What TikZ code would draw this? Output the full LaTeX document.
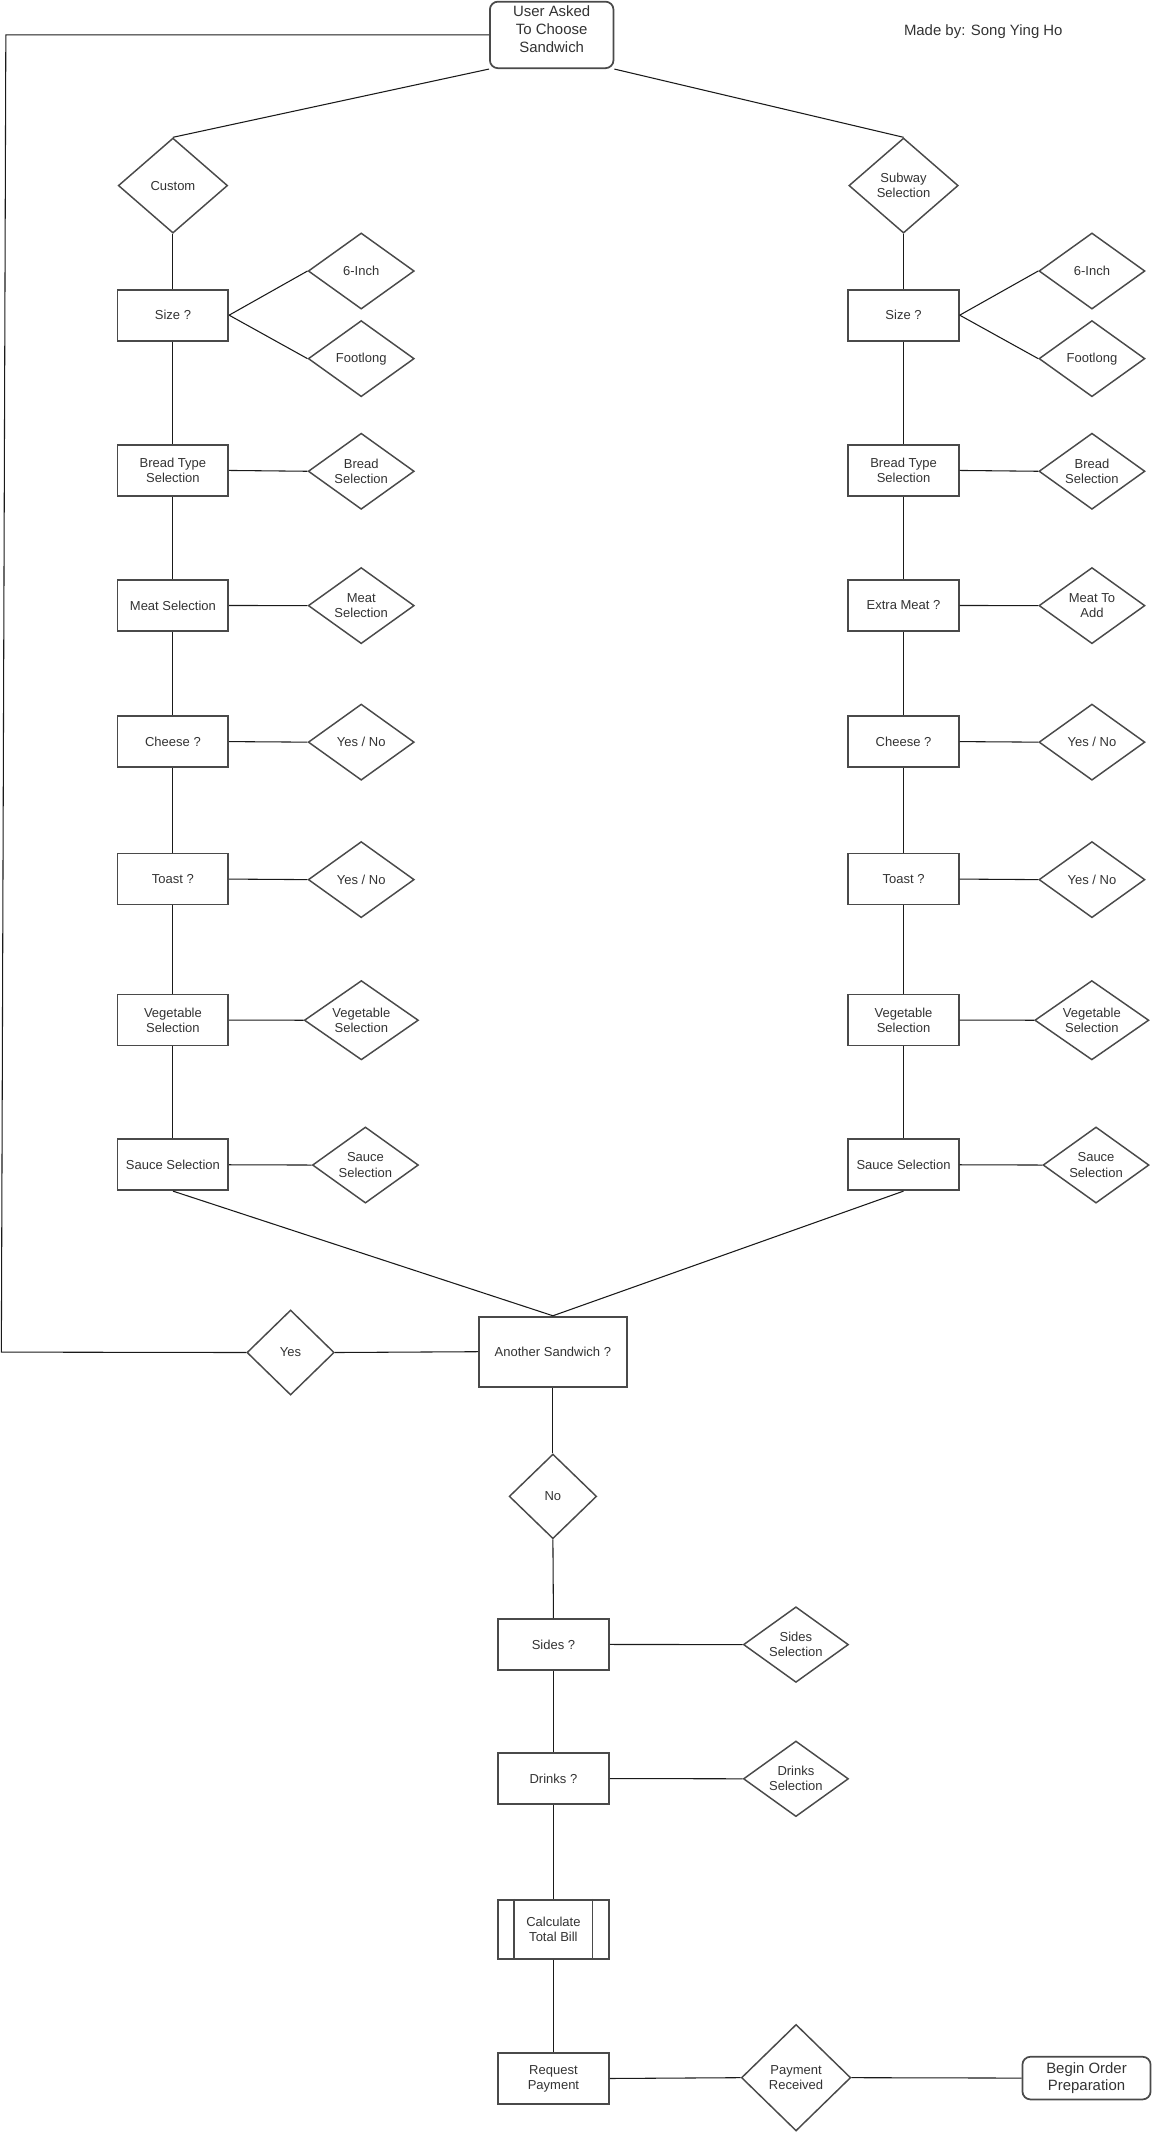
\documentclass[tikz,border=0pt]{standalone}
\usepackage{fontspec}
\setmainfont{Liberation Sans}
\usetikzlibrary{shapes.geometric}
\definecolor{bord}{HTML}{4A4A4A}
\definecolor{txt}{HTML}{333333}
\definecolor{conncol}{HTML}{1A1A1A}
\newcommand\fsmall{\fontsize{9.75}{11.3}\selectfont}
\newcommand\fbig{\fontsize{11.2}{13.3}\selectfont}
\tikzset{
  box/.style={draw=bord, line width=1.3pt, fill=white, text=txt, font=\fsmall, align=center,
    inner sep=0pt, minimum width=83pt, minimum height=38.2pt},
  diam/.style={diamond, draw=bord, line width=1.1pt, fill=white, text=txt, font=\fsmall, align=center,
    inner sep=0pt, shape aspect=1.4, minimum width=79.5pt, minimum height=57.1pt},
  rbox/.style={rounded corners=6pt, draw=bord, line width=1.3pt, fill=white, text=txt, font=\fbig,
    align=center, inner sep=0pt},
  conn/.style={draw=conncol, line width=0.8pt},
}
\begin{document}
\begin{tikzpicture}[x=1.01887pt, y=-1.01887pt]
\useasboundingbox (0,0) rectangle (848,1569.4);

% top
\node[rbox, minimum width=92.7pt, minimum height=49.9pt] (top) at (406.1,25.7) {};
\node[text=txt, font=\fbig, align=center, inner sep=0pt] (toptext) at (406.1,21.5) {User Asked\\To Choose\\Sandwich};
\node[text=txt, font=\fbig, inner sep=0pt] (made) at (723.8,23.3) {Made by: Song Ying Ho};

\node[diam, shape aspect=1.15, minimum width=82pt, minimum height=71.3pt] (custom) at (127.3,136.6) {Custom};
\node[diam, shape aspect=1.15, minimum width=82pt, minimum height=71.3pt] (subway) at (665.1,136.6) {Subway\\Selection};

% left column
\node[box] (sizeL)  at (127.3,232)   {Size ?};
\node[box] (breadL) at (127.3,346.3) {Bread Type\\Selection};
\node[box] (meatL)  at (127.3,445.7) {Meat Selection};
\node[box] (cheeseL) at (127.3,545.9) {Cheese ?};
\node[box] (toastL) at (127.3,647.1) {Toast ?};
\node[box] (vegL)   at (127.3,750.9) {Vegetable\\Selection};
\node[box] (sauceL) at (127.3,857.4) {Sauce Selection};

\node[diam] (inchL)   at (265.9,199.5) {6-Inch};
\node[diam] (footL)   at (265.9,264)   {Footlong};
\node[diam] (breadDL) at (265.9,346.9) {Bread\\Selection};
\node[diam] (meatDL)  at (265.9,445.8) {Meat\\Selection};
\node[diam] (cheeseDL) at (265.9,546.3) {Yes / No};
\node[diam] (toastDL) at (265.9,647.5) {Yes / No};
\node[diam, shape aspect=1.44, minimum width=85.6pt, minimum height=59.5pt] (vegDL) at (266,751) {Vegetable\\Selection};
\node[diam] (sauceDL) at (269,857.6) {Sauce\\Selection};

% right column
\node[box] (sizeR)  at (665.1,232)   {Size ?};
\node[box] (breadR) at (665.1,346.3) {Bread Type\\Selection};
\node[box] (meatR)  at (665.1,445.7) {Extra Meat ?};
\node[box] (cheeseR) at (665.1,545.9) {Cheese ?};
\node[box] (toastR) at (665.1,647.1) {Toast ?};
\node[box] (vegR)   at (665.1,750.9) {Vegetable\\Selection};
\node[box] (sauceR) at (665.1,857.4) {Sauce Selection};

\node[diam] (inchR)   at (803.8,199.5) {6-Inch};
\node[diam] (footR)   at (803.8,264)   {Footlong};
\node[diam] (breadDR) at (803.8,346.9) {Bread\\Selection};
\node[diam] (meatDR)  at (803.8,445.8) {Meat To\\Add};
\node[diam] (cheeseDR) at (803.8,546.3) {Yes / No};
\node[diam] (toastDR) at (803.8,647.5) {Yes / No};
\node[diam, shape aspect=1.44, minimum width=85.6pt, minimum height=59.5pt] (vegDR) at (803.7,751) {Vegetable\\Selection};
\node[diam] (sauceDR) at (806.8,857.6) {Sauce\\Selection};

% bottom
\node[box, minimum width=110.8pt, minimum height=52.6pt] (another) at (407,995) {Another Sandwich ?};
\node[diam, shape aspect=1, minimum width=65.5pt, minimum height=63.8pt] (yes) at (213.9,995.6) {Yes};
\node[diam, shape aspect=1, minimum width=65.6pt, minimum height=63.5pt] (no) at (407,1101.5) {No};

\node[box, minimum width=83.5pt] (sides)  at (407.4,1210.5) {Sides ?};
\node[diam, minimum width=78.8pt, minimum height=56.7pt] (sidesD) at (585.9,1210.6) {Sides\\Selection};
\node[box, minimum width=83.5pt] (drinks) at (407.4,1309.2) {Drinks ?};
\node[diam, minimum width=78.8pt, minimum height=56.7pt] (drinksD) at (585.9,1309.4) {Drinks\\Selection};
\node[box, minimum width=83.5pt, minimum height=44.2pt] (calc) at (407.4,1420.1) {Calculate\\Total Bill};
\draw[draw=bord, line width=1.3pt] ([xshift=13.04pt]calc.north west) -- ([xshift=13.04pt]calc.south west);
\draw[draw=bord, line width=1.3pt] ([xshift=-13.04pt]calc.north east) -- ([xshift=-13.04pt]calc.south east);
\node[box, minimum width=83.5pt] (request) at (407.4,1530) {Request\\Payment};
\node[diam, shape aspect=1, minimum width=82pt, minimum height=79.9pt] (payment) at (586,1529.4) {Payment\\Received};
\node[rbox, minimum width=96.1pt, minimum height=32pt] (begin) at (799.8,1529.7) {Begin Order\\Preparation};

% connectors
\coordinate (loopA) at (4.3,25.7);
\coordinate (loopB) at (1,995.3);
\draw[conn] (top.west) -- (loopA) -- (loopB) -- (yes.west);
\draw[conn] (top.south west) -- (custom.north);
\draw[conn] (top.south east) -- (subway.north);
\draw[conn] (custom.south) -- (sizeL.north);
\draw[conn] (subway.south) -- (sizeR.north);

\foreach \s in {L,R}{
  \draw[conn] (size\s.south) -- (bread\s.north);
  \draw[conn] (bread\s.south) -- (meat\s.north);
  \draw[conn] (meat\s.south) -- (cheese\s.north);
  \draw[conn] (cheese\s.south) -- (toast\s.north);
  \draw[conn] (toast\s.south) -- (veg\s.north);
  \draw[conn] (veg\s.south) -- (sauce\s.north);
  \draw[conn] (size\s.east) -- (inch\s.west);
  \draw[conn] (size\s.east) -- (foot\s.west);
  \draw[conn] (bread\s.east) -- (breadD\s.west);
  \draw[conn] (meat\s.east) -- (meatD\s.west);
  \draw[conn] (cheese\s.east) -- (cheeseD\s.west);
  \draw[conn] (toast\s.east) -- (toastD\s.west);
  \draw[conn] (veg\s.east) -- (vegD\s.west);
  \draw[conn] (sauce\s.east) -- (sauceD\s.west);
  \draw[conn] (sauce\s.south) -- (another.north);
}
\draw[conn] (yes.east) -- (another.west);
\draw[conn] (another.south) -- (no.north);
\draw[conn] (no.south) -- (sides.north);
\draw[conn] (sides.south) -- (drinks.north);
\draw[conn] (drinks.south) -- (calc.north);
\draw[conn] (calc.south) -- (request.north);
\draw[conn] (sides.east) -- (sidesD.west);
\draw[conn] (drinks.east) -- (drinksD.west);
\draw[conn] (request.east) -- (payment.west);
\draw[conn] (payment.east) -- (begin.west);
\end{tikzpicture}
\end{document}
